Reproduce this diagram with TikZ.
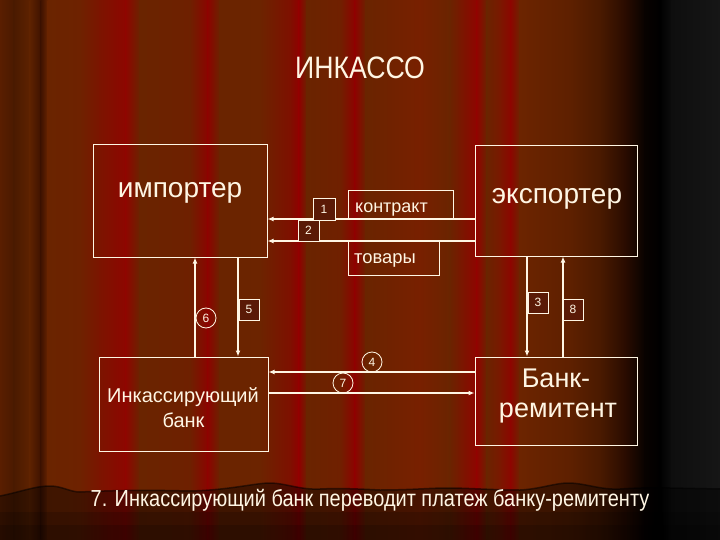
\documentclass[tikz,border=0pt]{standalone}
\usepackage{fontspec}
\setmainfont{Liberation Sans}
\newfontfamily\narrowfont[FakeStretch=0.86]{Liberation Sans}
\usetikzlibrary{arrows.meta}
\definecolor{linec}{HTML}{FFF6E4}
\definecolor{numfill}{HTML}{5A1A06}
\tikzset{
  boxst/.style={draw=linec, line width=1pt, inner sep=0pt},
  numbox/.style={draw=linec, fill=numfill, line width=0.8pt, inner sep=0pt, text=linec, font=\fontsize{12}{12}\selectfont},
  numcirc/.style={circle, draw=linec, line width=0.8pt, minimum size=20pt, inner sep=0pt, text=linec, font=\fontsize{12}{12}\selectfont},
  lbl/.style={text=linec, inner sep=0pt, align=center},
  arr/.style={draw=linec, line width=1.3pt, -{Latex[length=6pt,width=5pt]}},
  thickarr/.style={draw=linec, line width=2.2pt, -{Latex[length=6pt,width=5pt]}},
}
\def\wavepath{(0,496) .. controls (20,492) and (35,486) .. (50,486)
  .. controls (62,486) and (70,492) .. (80,492)
  .. controls (120,490) and (150,490) .. (190,491)
  .. controls (230,490) and (255,483) .. (270,483)
  .. controls (285,483) and (300,490) .. (320,489)
  .. controls (340,488) and (360,489) .. (380,490)
  .. controls (410,490) and (430,488) .. (447,488)
  .. controls (470,488) and (490,490) .. (520,490)
  .. controls (540,489) and (555,483) .. (568,483)
  .. controls (585,483) and (600,490) .. (620,489)
  .. controls (650,487) and (665,488) .. (720,489)}
\begin{document}
\begin{tikzpicture}[x=1pt,y=-1pt]
\useasboundingbox (0,0) rectangle (720,540);
% background stripes
\foreach \xa/\xb/\ca/\cb in {
0/14/5A1E00/4A1A00, 14/30/4A1A00/5E2200, 30/41/5E2200/3E1200, 41/48/3E1200/6A2400,
48/80/6A2400/6E2200, 80/100/6E2200/7C1400, 100/126/7C1400/8E0600, 126/140/8E0600/6A2400,
140/190/6A2400/6E2000, 190/208/6E2000/8C0400, 208/220/8C0400/6A2400, 220/260/6A2400/6C2400,
260/290/6C2400/7E1000, 290/299/7E1000/900000, 299/307/900000/6A2400, 307/340/6A2400/702000,
340/355/702000/8E0200, 355/366/8E0200/6A2400, 366/420/6A2400/782000, 420/450/782000/6A2400,
450/477/6A2400/900400, 477/487/900400/6A2400, 487/500/6A2400/7A1800, 500/511/7A1800/8C0600,
511/520/8C0600/6C2400, 520/570/6C2400/5E2000, 570/600/5E2000/4A1A00, 600/625/4A1A00/2A0C00,
625/645/2A0C00/080200, 645/660/080200/000000, 660/672/000000/0E0E0E, 672/720/0E0E0E/161616}{
  \definecolor{cA}{HTML}{\ca}\definecolor{cB}{HTML}{\cb}
  \shade[left color=cA, right color=cB] (\xa-0.3,0) rectangle (\xb+0.3,540);
}
% lower drape with wavy edge
\fill[black, opacity=0.4] \wavepath -- (720,540) -- (0,540) -- cycle;
\fill[black, opacity=0.15] (0,512) rectangle (720,540);
\fill[black, opacity=0.15] (0,525) rectangle (720,540);
\draw[black, opacity=0.5, line width=1.5pt] \wavepath;

% title
\node[lbl, font=\narrowfont\fontsize{31}{31}\selectfont] (title) at (360,68) {ИНКАССО};

% main boxes
\node[boxst, minimum width=174pt, minimum height=112pt] (imp) at (180,201) {};
\node[lbl, anchor=base, font=\fontsize{28}{28}\selectfont] (impt) at (180,198) {импортер};
\node[boxst, minimum width=162pt, minimum height=110pt] (exp) at (556,201) {};
\node[lbl, anchor=base, font=\fontsize{28}{28}\selectfont] (expt) at (557,204) {экспортер};
\node[boxst, minimum width=169pt, minimum height=94pt] (ink) at (183.5,404) {};
\node[lbl, anchor=base, font=\fontsize{20}{20}\selectfont] (inkt1) at (183,402) {Инкассирующий};
\node[lbl, anchor=base, font=\fontsize{20}{20}\selectfont] (inkt2) at (183.5,427) {банк};
\node[boxst, minimum width=162pt, minimum height=88pt] (bank) at (556,401) {};
\node[lbl, anchor=base, font=\fontsize{27}{27}\selectfont] (bankt1) at (556,387) {Банк-};
\node[lbl, anchor=base, font=\fontsize{27}{27}\selectfont] (bankt2) at (558,417) {ремитент};

% labelled boxes
\node[boxst, minimum width=105pt, minimum height=29pt] (kon) at (400.5,205.5) {};
\node[lbl, anchor=base west, font=\fontsize{18}{18}\selectfont] (kont) at (355,212) {контракт};
\node[boxst, minimum width=91pt, minimum height=34pt] (tov) at (393.5,258) {};
\node[lbl, anchor=base west, font=\fontsize{18.4}{18.4}\selectfont] (tovt) at (354,263) {товары};

% connectors
\coordinate (yk) at (0,219);
\coordinate (yt) at (0,241);
\coordinate (y4) at (0,372);
\coordinate (y7) at (0,393);
\coordinate (x6) at (195,0);
\coordinate (x5) at (238,0);
\coordinate (x3) at (527,0);
\coordinate (x8) at (563,0);
\draw[arr] (exp.west |- yk) -- (imp.east |- yk);
\draw[thickarr] (exp.west |- yt) -- (imp.east |- yt);
\draw[arr] (ink.north -| x6) -- (imp.south -| x6);
\draw[arr] (imp.south -| x5) -- (ink.north -| x5);
\draw[arr] (exp.south -| x3) -- (bank.north -| x3);
\draw[arr] (bank.north -| x8) -- (exp.south -| x8);
\draw[thickarr] (bank.west |- y4) -- (ink.east |- y4);
\draw[arr] (ink.east |- y7) -- (bank.west |- y7);

% number labels
\node[numbox, minimum width=22pt, minimum height=22pt] (n1) at (324,209) {1};
\node[numbox, minimum width=21pt, minimum height=21pt] (n2) at (308.5,230.5) {2};
\node[numbox, minimum width=20pt, minimum height=21pt] (n5) at (249,309.5) {5};
\node[numbox, minimum width=20pt, minimum height=21pt] (n3) at (538,302.5) {3};
\node[numbox, minimum width=20pt, minimum height=21pt] (n8) at (573,309.5) {8};
\node[numcirc] (n6) at (206,318) {6};
\node[numcirc] (n4) at (372,362) {4};
\node[numcirc] (n7) at (343,383) {7};

% caption
\node[lbl, font=\narrowfont\fontsize{23.2}{23.2}\selectfont] (cap) at (370,500) {7. Инкассирующий банк переводит платеж банку-ремитенту};
\end{tikzpicture}
\end{document}
